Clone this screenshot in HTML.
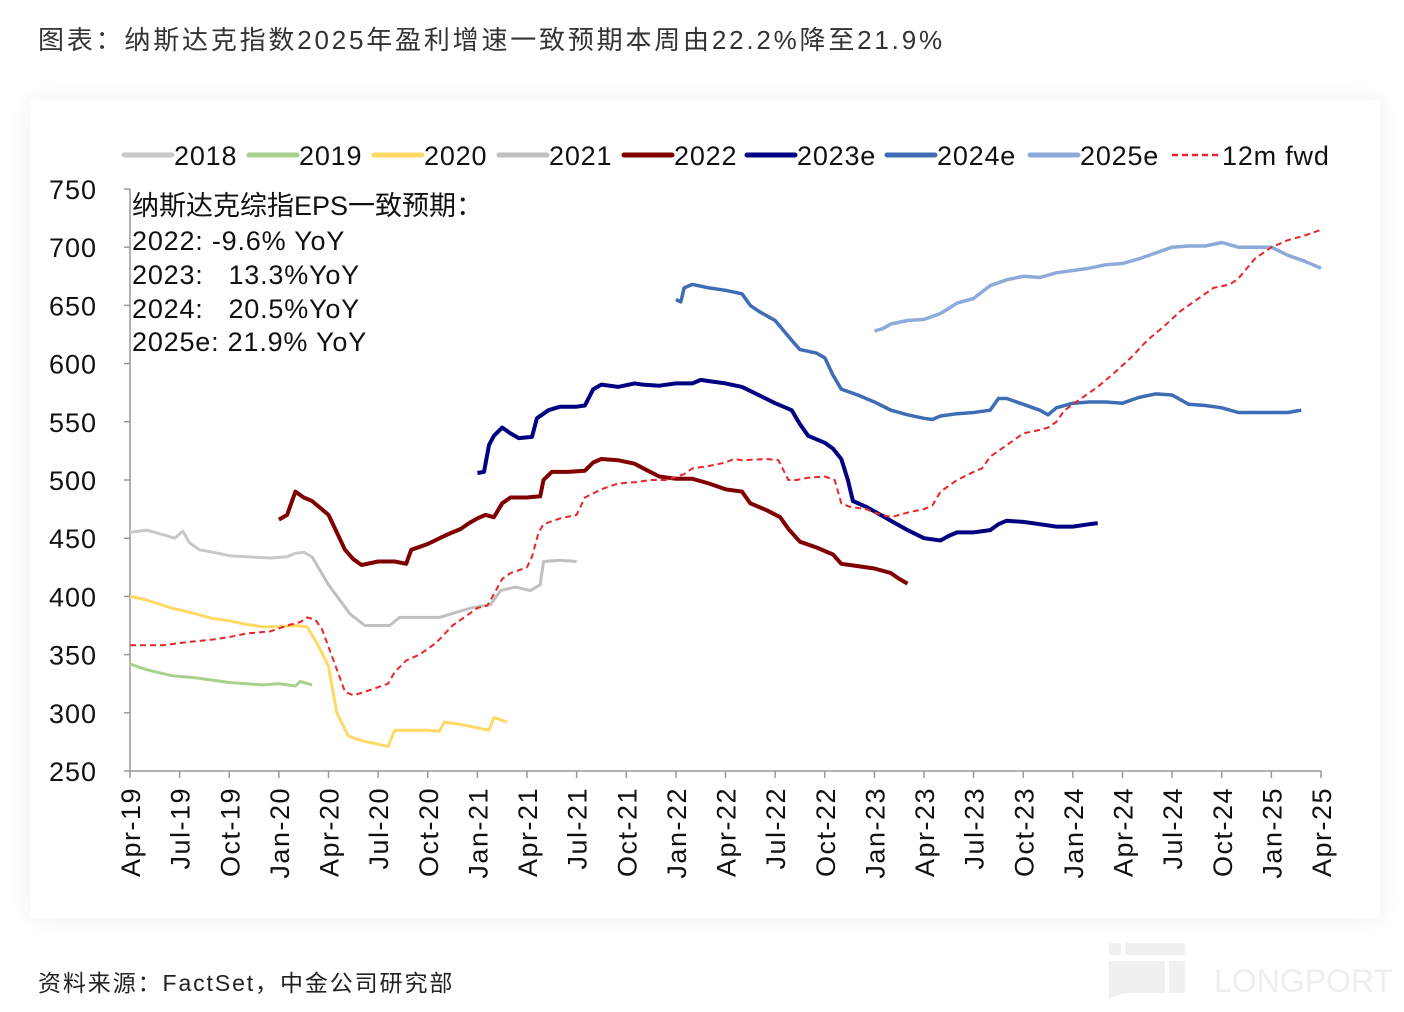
<!DOCTYPE html>
<html><head><meta charset="utf-8"><style>
body{margin:0;width:1404px;height:1012px;background:#fff;overflow:hidden;position:relative;font-family:"Liberation Sans","Noto Sans CJK SC",sans-serif}
#title{position:absolute;left:38px;top:20px;font-size:26px;color:#333;letter-spacing:2.8px;white-space:nowrap}
#panel{position:absolute;left:30px;top:100px;width:1350px;height:818px;background:#fff;box-shadow:0 0 24px rgba(0,0,0,0.07)}
#src{position:absolute;left:38px;top:964px;font-size:23px;color:#222;letter-spacing:1.9px;white-space:nowrap}
svg{position:absolute;left:0;top:0}
</style></head><body>
<div id="title">图表：纳斯达克指数2025年盈利增速一致预期本周由22.2%降至21.9%</div>
<div id="panel"></div>
<div id="src">资料来源：FactSet，中金公司研究部</div>
<svg id="chart" width="1404" height="1012">
<g fill="#f0f0f0">
<rect x="1109" y="943" width="12" height="12"/><rect x="1125" y="943" width="60" height="12"/>
<path d="M1109 961 H1165 V993 H1125 L1109 998 Z"/><rect x="1169" y="961" width="16" height="32"/>
<text x="1214" y="992" font-size="32" fill="#eeeeee" font-family="Liberation Sans, sans-serif">LONGPORT</text>
</g>
<g id="axes"></g><g id="series"></g><g id="legend"></g>
<g font-size="27" fill="#111" letter-spacing="0.8">
<text x="132" y="215" letter-spacing="0">纳斯达克综指EPS一致预期：</text>
<text x="132" y="250">2022: -9.6% YoY</text>
<text x="132" y="284">2023:&#160;&#160; 13.3%YoY</text>
<text x="132" y="318">2024:&#160;&#160; 20.5%YoY</text>
<text x="132" y="351">2025e: 21.9% YoY</text>
</g>
</svg>
<script>
const xTicks=["Apr-19","Jul-19","Oct-19","Jan-20","Apr-20","Jul-20","Oct-20","Jan-21","Apr-21","Jul-21","Oct-21","Jan-22","Apr-22","Jul-22","Oct-22","Jan-23","Apr-23","Jul-23","Oct-23","Jan-24","Apr-24","Jul-24","Oct-24","Jan-25","Apr-25"];
const yTicks=[250,300,350,400,450,500,550,600,650,700,750];
const seriesNames=["2018","2019","2020","2021","2022","2023e","2024e","2025e","12m fwd"];
const seriesColors=["#c8c8c8","#a9d18e","#ffd966","#c0c0c0","#800000","#000080","#3f6db5","#8eaadb","#e8262a"];
const s2018=[[0,455],[1,457],[2,453],[2.7,450],[3.2,456],[3.6,446],[4.2,440],[5,438],[6,435],[7,434],[8.5,433],[9.5,434],[10,437],[10.5,438],[11,434]];
const s2019=[[0,342],[1,337],[2.5,332],[4,330],[6,326],[8,324],[9,325],[10,323],[10.3,327],[11,324]];
const s2020=[[0,400],[1,397],[2.5,390],[4,385],[5,381],[6,379],[7,376],[8,374],[9,374],[10,375],[10.7,374],[11.3,360],[12,340],[12.5,300],[13.2,280],[14,276],[15,273],[15.6,271],[16,285],[17,285],[18,285],[18.7,284],[19,292],[20,290],[21,287],[21.7,285],[22,296],[22.8,292]];
const s2021=[[11,434],[12,410],[13.3,385],[14.2,375],[15.7,375],[16.3,382],[18.7,382],[20.6,390],[21.8,393],[22.4,405],[23.3,408],[24.2,405],[24.8,410],[25,430],[26,431],[27,430]];
const s2022=[[9,466],[9.5,470],[10,490],[10.5,485],[11,482],[12,470],[12.5,455],[13,440],[13.5,432],[14,427],[15,430],[16,430],[16.7,428],[17,440],[18,445],[19,452],[20,458],[20.5,463],[21,467],[21.5,470],[22,468],[22.5,480],[23,485],[24,485],[24.8,486],[25,500],[25.5,507],[26.5,507],[27.5,508],[28,515],[28.5,518],[29.5,517],[30.5,514],[31.3,508],[32,503],[33,501],[34,501],[35,497],[36,492],[37,490],[37.5,480],[38.5,474],[39.3,468],[39.8,458],[40.5,447],[41.5,442],[42.5,436],[43,428],[44,426],[45,424],[46,420],[46.5,415],[47,411]];
const s2023=[[21,506],[21.4,507],[21.7,530],[22,538],[22.5,545],[23,540],[23.5,536],[24.3,537],[24.6,553],[25.3,560],[26,563],[27,563],[27.5,564],[28,578],[28.5,582],[29.5,580],[30.5,583],[31,582],[32,581],[33,583],[34,583],[34.5,586],[35,585],[36,583],[37,580],[38,573],[39,566],[40,560],[40.5,548],[41,538],[42,532],[42.5,527],[43,518],[43.4,500],[43.7,482],[44.5,477],[45,473],[46,465],[47,457],[48,450],[49,448],[49.5,452],[50,455],[51,455],[52,457],[52.5,462],[53,465],[54,464],[55,462],[56,460],[57,460],[58,462],[58.5,463]];
const s2024=[[33,655],[33.3,653],[33.5,665],[34,668],[35,665],[36,663],[37,660],[37.5,650],[38,645],[39,637],[40,620],[40.5,612],[41.5,609],[42,605],[42.5,590],[43,578],[44,573],[45,567],[46,560],[47,556],[48,553],[48.5,552],[49,555],[50,557],[51,558],[52,560],[52.5,570],[53,570],[54,565],[55,560],[55.5,556],[56,562],[57,566],[58,567],[59,567],[60,566],[61,571],[62,574],[63,573],[64,565],[65,564],[66,562],[67,558],[68,558],[69,558],[70,558],[70.8,560]];
const s2025=[[45,628],[45.5,630],[46,634],[47,637],[48,638],[49,643],[50,652],[51,656],[52,667],[53,672],[54,675],[55,674],[56,678],[57,680],[58,682],[59,685],[60,686],[61,690],[62,695],[63,700],[64,701],[65,701],[66,704],[67,700],[68,700],[69,700],[70,693],[71,688],[72,682]];
const sFwd=[[0,358],[2,358],[3,360],[5,363],[6,365],[7,368],[8.5,370],[9.5,375],[10.3,378],[10.7,382],[11.2,380],[11.6,372],[12.3,345],[13,318],[13.5,315],[14.2,318],[15,322],[15.6,325],[16,335],[16.7,345],[17.5,350],[18.5,360],[19.5,375],[20.5,385],[21,390],[21.6,392],[22,402],[22.5,415],[23,420],[24,425],[24.3,434],[24.7,455],[25,462],[26,467],[27,470],[27.5,485],[28.5,492],[29.5,497],[30.5,498],[31.5,500],[32.5,500],[33.5,505],[34,510],[35,512],[36,515],[36.5,518],[37,517],[38.5,518],[39.2,517],[39.8,500],[40.3,500],[41,502],[42,503],[42.6,500],[43,480],[43.5,477],[44.5,475],[45,472],[46,468],[47,472],[48,475],[48.5,478],[49,490],[50,500],[51,507],[51.5,510],[52,520],[53,530],[54,540],[55,543],[55.5,545],[56,550],[56.5,560],[57.5,570],[58.5,580],[59.5,592],[60.5,605],[61.5,620],[62.5,632],[63.5,645],[64.5,655],[65.5,665],[66.5,668],[67,673],[68,690],[69,700],[70,706],[71,710],[72,715]];
const allSeries=[s2018,s2019,s2020,s2021,s2022,s2023,s2024,s2025,sFwd];

const X0=130,X1=1321,Y0=771,Y1=189,MMAX=72;
const xS=m=>X0+(X1-X0)*m/MMAX;
const yS=v=>Y0-(Y0-Y1)*(v-250)/500;
const NS="http://www.w3.org/2000/svg";
function mk(tag,attrs,parent){const e=document.createElementNS(NS,tag);for(const k in attrs)e.setAttribute(k,attrs[k]);parent.appendChild(e);return e;}
const axes=document.getElementById('axes');
const ax=mk('line',{x1:X0,y1:Y1,x2:X0,y2:Y0,stroke:'#999','stroke-width':1.5},axes);


const bx=mk('line',{x1:X0,y1:Y0,x2:X1,y2:Y0,stroke:'#999','stroke-width':1.5},axes);


yTicks.forEach(v=>{
  mk('line',{x1:X0-6,y1:yS(v),x2:X0,y2:yS(v),stroke:'#999','stroke-width':1.5},axes);
  const t=mk('text',{x:97,y:yS(v)+10,'text-anchor':'end','font-size':27,'letter-spacing':1,fill:'#111'},axes);
  t.textContent=v;
  
  
});
xTicks.forEach((lab,i)=>{
  const x=xS(i*3);
  mk('line',{x1:x,y1:Y0,x2:x,y2:Y0+7,stroke:'#999','stroke-width':1.5},axes);
  const t=mk('text',{x:0,y:0,'text-anchor':'end','font-size':27,'letter-spacing':1.5,fill:'#111',transform:`translate(${x+10},${Y0+16}) rotate(-90)`},axes);
  t.textContent=lab;
  
  
});
const sg=document.getElementById('series');
allSeries.forEach((s,i)=>{
  const d=s.map((p,j)=>(j?'L':'M')+xS(p[0]).toFixed(1)+' '+yS(p[1]).toFixed(1)).join(' ');
  const w=[3,3,3,3,4,4,3.5,3.5,2][i];
  const p=mk('path',{d:d,fill:'none',stroke:seriesColors[i],'stroke-width':w,'stroke-linejoin':'round'},sg);
  if(i==8)p.setAttribute('stroke-dasharray','6 4');
  
  
});
const lg=document.getElementById('legend');
const lx=[122,247,372,497,622,745,885,1028,1170];
seriesNames.forEach((n,i)=>{
  const g=mk('g',{},lg);
  
  
  const l=mk('line',{x1:lx[i]+2,y1:155,x2:lx[i]+50,y2:155,stroke:seriesColors[i],'stroke-width':i==8?2.5:5,'stroke-linecap':i==8?'butt':'round'},g);
  if(i==8)l.setAttribute('stroke-dasharray','6 4');
  const t=mk('text',{x:lx[i]+52,y:165,'font-size':27,'letter-spacing':0.8,fill:'#111'},g);
  t.textContent=n;
});
</script>
</body></html>
